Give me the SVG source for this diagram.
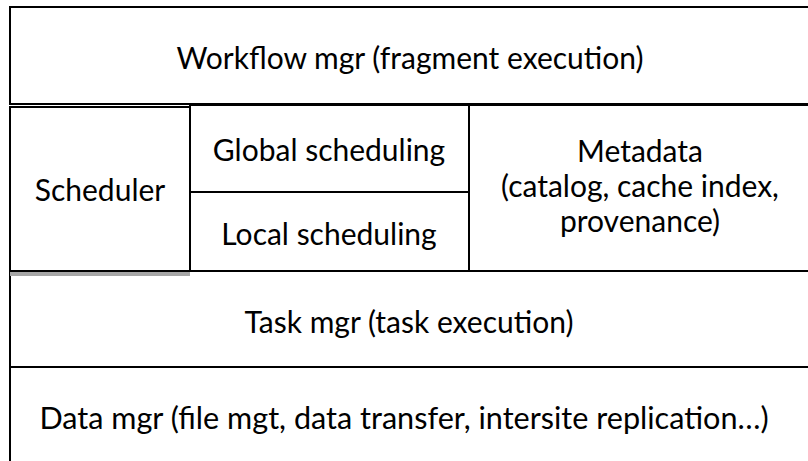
<svg xmlns="http://www.w3.org/2000/svg" width="808" height="461" viewBox="0 0 808 461">
<style>
.box{fill:#fff;stroke:#000;stroke-width:2}
.t{font-family:Lato,"Liberation Sans",sans-serif;font-size:30px;fill:#000;text-anchor:middle}
</style>
<rect width="808" height="461" fill="#fff"/>
<g id="workflow"><rect class="box" x="10" y="7" width="810" height="97"/><text class="t" x="410" y="69">Workflow mgr (fragment execution)</text></g>
<g id="global"><rect class="box" x="190" y="105" width="279" height="87"/><text class="t" x="329" y="161">Global scheduling</text></g>
<g id="local"><rect class="box" x="190" y="192" width="279" height="79"/><text class="t" x="329" y="245">Local scheduling</text></g>
<g id="metadata"><rect class="box" x="469" y="105" width="351" height="166"/><text class="t" x="640" y="162">Metadata</text><text class="t" x="640" y="197">(catalog, cache index,</text><text class="t" x="640" y="232">provenance)</text></g>
<g id="task"><rect class="box" x="10" y="271" width="810" height="96"/><text class="t" x="409" y="333">Task mgr (task execution)</text></g>
<g id="scheduler"><rect x="10" y="271" width="180" height="5" fill="#a6a6a6"/><rect class="box" x="10" y="107" width="180" height="164"/><text class="t" x="100" y="201">Scheduler</text></g>
<g id="data"><rect class="box" x="10" y="367" width="810" height="110"/><text class="t" x="404" y="429" style="font-size:30.6px">Data mgr (file mgt, data transfer, intersite replication…)</text></g>
<g id="connectors"/>
</svg>
